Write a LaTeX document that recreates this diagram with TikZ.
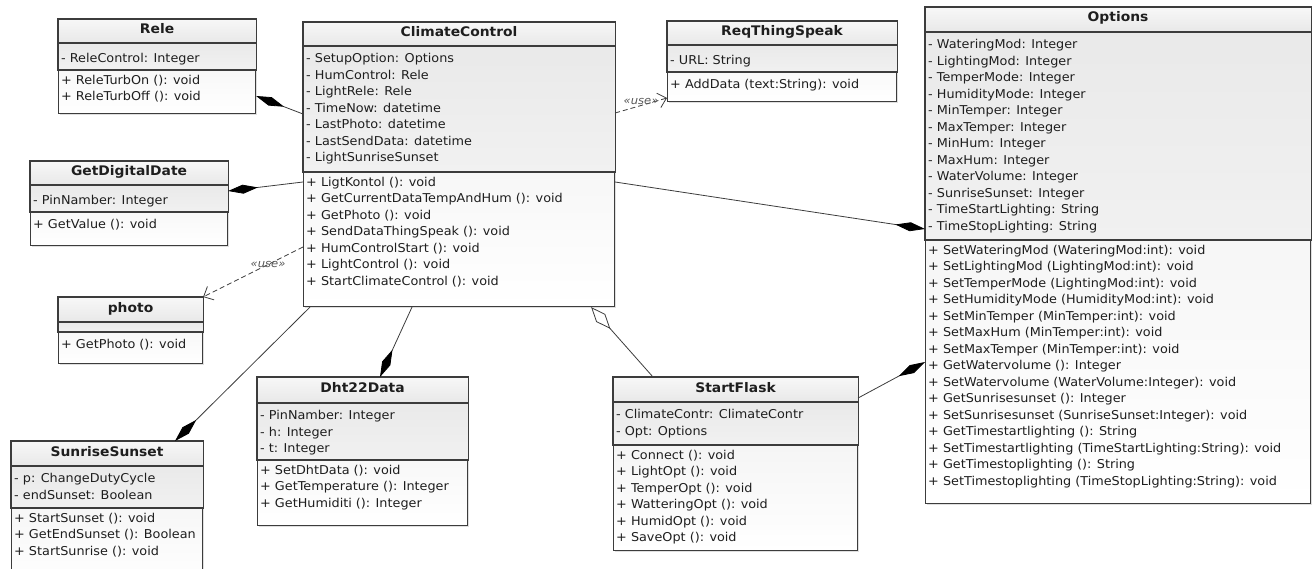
\documentclass[tikz,border=0pt]{standalone}
\usepackage{fontspec}
\setmainfont{DejaVu Sans}[FakeStretch=1.05]
\usetikzlibrary{arrows.meta,shadows}

\definecolor{umlline}{HTML}{3C3C3C}
\definecolor{umltext}{HTML}{1E1E1E}

\begin{document}
\begin{tikzpicture}[x=1pt, y=-1pt,
	cls/.style={rectangle, draw=umlline, line width=1.1pt, anchor=north west, inner sep=0pt,
		top color=gray!13, bottom color=white,
		drop shadow={shadow xshift=1.5pt, shadow yshift=-1.5pt, opacity=0.25, fill=gray}},
	hd/.style={draw=umlline, line width=1.1pt, top color=gray!6, bottom color=gray!18},
	attbox/.style={draw=umlline, line width=1.1pt, top color=gray!17, bottom color=gray!11},
	title/.style={anchor=base, inner sep=0pt, text=umltext, font=\fontsize{13.2}{15}\selectfont\bfseries},
	list/.style={anchor=north west, align=left, inner xsep=3pt, inner ysep=7.5pt, text=umltext,
		font=\fontsize{12.2}{16.5}\selectfont, execute at begin node=\strut},
	ops/.style={inner ysep=5pt},
	comp/.style={draw=umlline, line width=0.8pt, {Diamond[length=30pt, width=9pt, fill=black, color=black]}-},
	aggr/.style={draw=umlline, line width=0.8pt, {Diamond[length=29pt, width=12pt, fill=white]}-},
	usearr/.style={draw=umlline, line width=0.8pt, dash pattern=on 5pt off 3pt, -{Straight Barb[length=8pt, width=15pt]}},
	uselbl/.style={inner sep=1pt, text=gray!70!black, font=\fontsize{11}{13}\selectfont\itshape}]
	
	\useasboundingbox (0,0) rectangle (1313,569);
	\clip (0,0) rectangle (1313,569);
	
	% Rele
	\node[cls, minimum width=197, minimum height=94] (rele) at (58,19) {};
	\draw[hd] (rele.north west) rectangle ([yshift=-24]rele.north east);
	\draw[attbox] ([yshift=-24]rele.north west) rectangle ([yshift=-51]rele.north east);
	\node[title] (rele-t) at ([yshift=-14.5]rele.north) {Rele};
	\node[list] (rele-a) at ([yshift=-24]rele.north west) {- ReleControl: Integer};
	\node[list, ops] (rele-m) at ([yshift=-51]rele.north west) {+ ReleTurbOn (): void\\+ ReleTurbOff (): void};
	
	% GetDigitalDate
	\node[cls, minimum width=197, minimum height=84] (getdd) at (30,161) {};
	\draw[hd] (getdd.north west) rectangle ([yshift=-24]getdd.north east);
	\draw[attbox] ([yshift=-24]getdd.north west) rectangle ([yshift=-51]getdd.north east);
	\node[title] (getdd-t) at ([yshift=-14.5]getdd.north) {GetDigitalDate};
	\node[list] (getdd-a) at ([yshift=-24]getdd.north west) {- PinNamber: Integer};
	\node[list, ops] (getdd-m) at ([yshift=-51]getdd.north west) {+ GetValue (): void};
	
	% photo
	\node[cls, minimum width=144, minimum height=66] (photo) at (58,297) {};
	\draw[hd] (photo.north west) rectangle ([yshift=-25]photo.north east);
	\draw[attbox] ([yshift=-25]photo.north west) rectangle ([yshift=-35]photo.north east);
	\node[title] (photo-t) at ([yshift=-15]photo.north) {photo};
	\node[list, ops] (photo-m) at ([yshift=-35]photo.north west) {+ GetPhoto (): void};
	
	% ClimateControl
	\node[cls, minimum width=311, minimum height=284] (cc) at (303,22) {};
	\draw[hd] (cc.north west) rectangle ([yshift=-24]cc.north east);
	\draw[attbox] ([yshift=-24]cc.north west) rectangle ([yshift=-150]cc.north east);
	\node[title] (cc-t) at ([yshift=-14.5]cc.north) {ClimateControl};
	\node[list] (cc-a) at ([yshift=-24]cc.north west) {- SetupOption: Options\\- HumControl: Rele\\- LightRele: Rele\\- TimeNow: datetime\\- LastPhoto: datetime\\- LastSendData: datetime\\- LightSunriseSunset};
	\node[list, ops] (cc-m) at ([yshift=-150]cc.north west) {+ LigtKontol (): void\\+ GetCurrentDataTempAndHum (): void\\+ GetPhoto (): void\\+ SendDataThingSpeak (): void\\+ HumControlStart (): void\\+ LightControl (): void\\+ StartClimateControl (): void};
	
	% ReqThingSpeak
	\node[cls, minimum width=229, minimum height=80] (req) at (667,21) {};
	\draw[hd] (req.north west) rectangle ([yshift=-24]req.north east);
	\draw[attbox] ([yshift=-24]req.north west) rectangle ([yshift=-51]req.north east);
	\node[title] (req-t) at ([yshift=-14.5]req.north) {ReqThingSpeak};
	\node[list] (req-a) at ([yshift=-24]req.north west) {- URL: String};
	\node[list, ops] (req-m) at ([yshift=-51]req.north west) {+ AddData (text:String): void};
	
	% Options
	\node[cls, minimum width=385, minimum height=496] (opt) at (925,7) {};
	\draw[hd] (opt.north west) rectangle ([yshift=-25]opt.north east);
	\draw[attbox] ([yshift=-25]opt.north west) rectangle ([yshift=-233]opt.north east);
	\node[title] (opt-t) at ([yshift=-15]opt.north) {Options};
	\node[list] (opt-a) at ([yshift=-25]opt.north west) {- WateringMod: Integer\\- LightingMod: Integer\\- TemperMode: Integer\\- HumidityMode: Integer\\- MinTemper: Integer\\- MaxTemper: Integer\\- MinHum: Integer\\- MaxHum: Integer\\- WaterVolume: Integer\\- SunriseSunset: Integer\\- TimeStartLighting: String\\- TimeStopLighting: String};
	\node[list, ops] (opt-m) at ([yshift=-233]opt.north west) {+ SetWateringMod (WateringMod:int): void\\+ SetLightingMod (LightingMod:int): void\\+ SetTemperMode (LightingMod:int): void\\+ SetHumidityMode (HumidityMod:int): void\\+ SetMinTemper (MinTemper:int): void\\+ SetMaxHum (MinTemper:int): void\\+ SetMaxTemper (MinTemper:int): void\\+ GetWatervolume (): Integer\\+ SetWatervolume (WaterVolume:Integer): void\\+ GetSunrisesunset (): Integer\\+ SetSunrisesunset (SunriseSunset:Integer): void\\+ GetTimestartlighting (): String\\+ SetTimestartlighting (TimeStartLighting:String): void\\+ GetTimestoplighting (): String\\+ SetTimestoplighting (TimeStopLighting:String): void};
	
	% SunriseSunset
	\node[cls, minimum width=191, minimum height=140] (sun) at (11,441) {};
	\draw[hd] (sun.north west) rectangle ([yshift=-25]sun.north east);
	\draw[attbox] ([yshift=-25]sun.north west) rectangle ([yshift=-67]sun.north east);
	\node[title] (sun-t) at ([yshift=-15]sun.north) {SunriseSunset};
	\node[list] (sun-a) at ([yshift=-25]sun.north west) {- p: ChangeDutyCycle\\- endSunset: Boolean};
	\node[list, ops] (sun-m) at ([yshift=-67]sun.north west) {+ StartSunset (): void\\+ GetEndSunset (): Boolean\\+ StartSunrise (): void};
	
	% Dht22Data
	\node[cls, minimum width=210, minimum height=148] (dht) at (257,377) {};
	\draw[hd] (dht.north west) rectangle ([yshift=-26]dht.north east);
	\draw[attbox] ([yshift=-26]dht.north west) rectangle ([yshift=-83]dht.north east);
	\node[title] (dht-t) at ([yshift=-15.5]dht.north) {Dht22Data};
	\node[list] (dht-a) at ([yshift=-26]dht.north west) {- PinNamber: Integer\\- h: Integer\\- t: Integer};
	\node[list, ops] (dht-m) at ([yshift=-83]dht.north west) {+ SetDhtData (): void\\+ GetTemperature (): Integer\\+ GetHumiditi (): Integer};
	
	% StartFlask
	\node[cls, minimum width=244, minimum height=173] (sf) at (613,377) {};
	\draw[hd] (sf.north west) rectangle ([yshift=-25]sf.north east);
	\draw[attbox] ([yshift=-25]sf.north west) rectangle ([yshift=-68]sf.north east);
	\node[title] (sf-t) at ([yshift=-15]sf.north) {StartFlask};
	\node[list] (sf-a) at ([yshift=-25]sf.north west) {- ClimateContr: ClimateContr\\- Opt: Options};
	\node[list, ops] (sf-m) at ([yshift=-68]sf.north west) {+ Connect (): void\\+ LightOpt (): void\\+ TemperOpt (): void\\+ WatteringOpt (): void\\+ HumidOpt (): void\\+ SaveOpt (): void};
	
	% connectors
	\draw[comp] ([yshift=-77]rele.north east) -- ([yshift=-92]cc.north west);
	\draw[comp] ([yshift=-30]getdd.north east) -- ([yshift=-160]cc.north west);
	\draw[usearr] ([yshift=-225]cc.north west) -- node[uselbl, pos=0.35, anchor=south, yshift=-5pt] (use1) {«use»} (photo.north east);
	\draw[usearr] ([yshift=-91]cc.north east) -- node[uselbl, pos=0.5, anchor=south, yshift=-1pt] (use2) {«use»} ([yshift=-77]req.north west);
	\draw[comp] ([yshift=-222]opt.north west) -- ([yshift=-160]cc.north east);
	\draw[comp] ([yshift=-355]opt.north west) -- ([yshift=-21]sf.north east);
	\draw[aggr] ([xshift=-24]cc.south east) -- ([xshift=40]sf.north west);
	\draw[comp] ([xshift=123]dht.north west) -- ([xshift=109]cc.south west);
	\draw[comp] ([xshift=164]sun.north west) -- ([xshift=7]cc.south west);
\end{tikzpicture}
\end{document}
